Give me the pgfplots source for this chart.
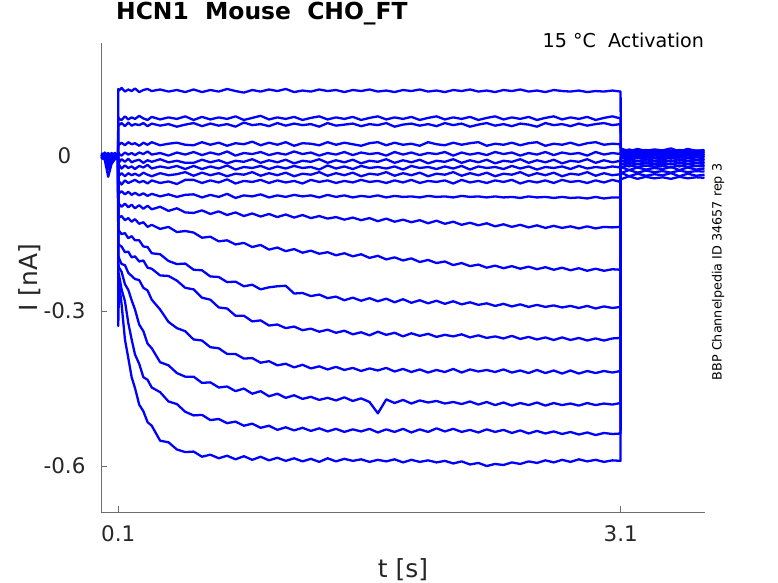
\documentclass[border=0pt]{standalone}
\usepackage{pgfplots}
\pgfplotsset{compat=1.18}
\usepackage{pgfplotstable}
\usepackage{fontspec}
\setmainfont{DejaVu Sans}
\definecolor{axtext}{RGB}{38,38,38}
\definecolor{axline}{RGB}{110,110,110}
% currents in pA; columns a..r = the 18 voltage steps (top to bottom)
\pgfplotstableread{
t a b c d e f g h i j k l m n o p q r
0 3 -2 5 -4 1 -6 2 4 -3 0 6 -5 -1 3 -2 5 -4 2
0.02 -5 4 -1 6 -3 2 -6 1 5 -2 -4 3 7 -5 0 -3 4 -8
0.04 2 -6 3 -2 5 -4 1 -7 2 6 -3 4 -2 -9 -12 -18 -25 -40
0.06 -3 5 -4 1 -2 6 -5 3 -1 -4 2 -6 5 1 -7 -4 -10 -15
0.08 4 -1 2 -5 3 -3 6 -2 4 1 -5 2 -3 6 -1 3 -2 -6
0.099 -2 3 -5 2 -4 5 -1 3 -6 2 4 -3 1 -4 5 -2 6 -3
0.1 130 76 63 27 8 -8 -20 -34 -52 -68 -95 -116 -141 -170 -193 -209 -223 -329
0.105 127 72 60 22 4 -12 -17 -38 -49 -72 -93 -119 -145 -172 -198 -216 -231 -246
0.12 132 70 64 26 1 -6 -24 -33 -55 -68 -98 -116 -151 -175 -209 -224 -258 -287
0.14 125 77 58 21 7 -11 -18 -39 -47 -74 -92 -124 -149 -186 -211 -248 -281 -355
0.16 129 71 65 27 3 -5 -23 -33 -52 -69 -99 -120 -159 -185 -226 -259 -323 -391
0.18 126 75 59 23 6 -12 -20 -37 -49 -75 -94 -127 -155 -196 -232 -279 -355 -428
0.2 131 72 62 25 2 -9 -25 -34 -46 -71 -101 -122 -163 -194 -238 -297 -384 -449
0.225 124 78 60 20 7 -7 -19 -38 -51 -76 -95 -131 -163 -204 -240 -326 -402 -481
0.25 128 73 64 26 4 -13 -22 -32 -48 -72 -102 -128 -175 -202 -255 -339 -428 -494
0.275 130 70 58 22 9 -8 -17 -36 -53 -77 -96 -137 -176 -216 -260 -363 -433 -515
0.3 126 76 63 27 3 -11 -24 -39 -47 -73 -103 -133 -188 -218 -278 -372 -448 -522
0.35 129 71 59 21 6 -6 -20 -33 -52 -78 -98 -141 -190 -231 -297 -399 -457 -551
0.4 125 75 62 24 1 -12 -23 -37 -49 -74 -106 -137 -203 -232 -321 -405 -475 -554
0.45 128 72 57 26 7 -9 -19 -35 -54 -79 -101 -147 -209 -241 -333 -420 -480 -568
0.5 124 77 61 22 3 -13 -25 -31 -46 -75 -109 -145 -208 -255 -339 -427 -495 -573
0.55 129 70 64 21 8 -13 -19 -38 -46 -74 -110 -148 -220 -258 -355 -427 -502 -572
0.6 124 76 58 27 2 -7 -25 -32 -52 -80 -105 -158 -221 -274 -357 -439 -501 -582
0.65 128 71 63 22 7 -12 -20 -37 -47 -75 -112 -156 -233 -278 -370 -438 -511 -578
0.7 125 75 59 26 3 -8 -24 -33 -51 -79 -107 -165 -234 -293 -372 -448 -509 -585
0.75 130 72 62 20 9 -14 -18 -39 -45 -73 -114 -163 -244 -295 -383 -446 -517 -580
0.8 126 77 57 25 1 -9 -26 -34 -53 -81 -109 -171 -243 -309 -383 -455 -514 -587
0.85 123 70 65 23 6 -11 -21 -36 -48 -76 -116 -168 -252 -309 -392 -450 -522 -581
0.9 128 74 60 28 4 -6 -23 -31 -50 -78 -111 -176 -249 -320 -391 -460 -518 -588
0.95 125 78 62 21 8 -13 -19 -38 -46 -74 -117 -172 -258 -318 -400 -455 -526 -582
1.0 129 71 58 26 2 -8 -25 -33 -52 -80 -112 -181 -254 -328 -397 -465 -522 -589
1.05 126 75 64 22 6 -12 -20 -37 -47 -76 -118 -177 -252 -326 -405 -460 -530 -584
1.1 130 72 59 27 3 -7 -24 -32 -51 -79 -113 -184 -251 -333 -402 -468 -525 -590
1.15 124 76 63 20 9 -14 -19 -39 -48 -75 -119 -180 -266 -330 -409 -463 -531 -585
1.2 127 70 60 25 4 -9 -23 -34 -53 -78 -114 -187 -265 -337 -404 -470 -526 -591
1.25 125 74 62 24 7 -11 -21 -36 -46 -76 -120 -183 -271 -334 -411 -466 -532 -586
1.3 129 77 57 21 1 -6 -26 -31 -50 -80 -116 -189 -268 -340 -407 -472 -527 -592
1.35 126 71 64 27 6 -13 -18 -38 -47 -75 -121 -186 -275 -336 -413 -468 -533 -585
1.4 128 75 59 22 3 -8 -24 -33 -52 -79 -118 -192 -272 -342 -408 -473 -528 -591
1.45 124 72 61 26 8 -12 -20 -37 -48 -76 -123 -188 -279 -338 -414 -467 -534 -586
1.5 128 76 63 23 2 -7 -25 -32 -51 -80 -119 -194 -274 -345 -410 -474 -529 -590
1.55 126 70 58 20 7 -14 -19 -39 -46 -77 -124 -190 -280 -341 -416 -469 -533 -587
1.6 129 74 62 25 4 -9 -23 -34 -50 -79 -120 -197 -275 -347 -411 -476 -528 -592
1.65 125 77 60 27 6 -11 -21 -36 -48 -76 -126 -193 -281 -340 -415 -498 -535 -588
1.7 127 71 64 21 1 -6 -24 -31 -52 -80 -121 -200 -276 -346 -410 -471 -529 -591
1.75 124 75 57 26 8 -13 -20 -38 -47 -77 -127 -196 -283 -342 -417 -478 -534 -587
1.8 128 72 61 22 3 -8 -26 -33 -51 -79 -123 -202 -277 -349 -412 -472 -528 -593
1.85 126 76 63 24 7 -12 -19 -37 -46 -78 -128 -198 -284 -343 -418 -479 -535 -588
1.9 129 70 59 20 2 -7 -23 -32 -52 -80 -124 -205 -279 -348 -413 -473 -529 -592
1.95 125 74 62 27 6 -14 -21 -39 -48 -77 -130 -201 -285 -344 -419 -477 -534 -589
2.0 127 77 58 23 4 -9 -25 -34 -50 -79 -125 -207 -280 -350 -414 -474 -527 -593
2.05 124 71 64 21 8 -11 -20 -36 -47 -78 -131 -204 -286 -346 -418 -479 -533 -590
2.1 128 75 60 26 1 -6 -24 -31 -53 -80 -127 -211 -281 -349 -412 -476 -528 -595
2.15 126 72 63 22 7 -13 -19 -38 -46 -77 -133 -207 -287 -345 -419 -480 -534 -591
2.2 129 76 57 25 3 -8 -26 -33 -51 -79 -129 -213 -283 -351 -413 -475 -530 -597
2.25 125 70 61 27 6 -12 -20 -37 -48 -78 -134 -210 -288 -347 -417 -481 -535 -594
2.3 127 74 64 20 2 -7 -23 -32 -52 -80 -130 -216 -285 -352 -414 -476 -529 -600
2.35 124 77 59 24 8 -14 -21 -39 -47 -78 -136 -212 -290 -349 -418 -482 -534 -596
2.4 128 71 62 22 4 -9 -25 -34 -50 -80 -132 -217 -286 -353 -413 -477 -530 -598
2.45 126 75 58 26 7 -11 -19 -36 -46 -79 -137 -213 -291 -348 -419 -483 -536 -593
2.5 129 72 63 21 1 -6 -24 -31 -53 -81 -133 -218 -287 -354 -415 -478 -531 -596
2.55 125 76 61 25 6 -13 -20 -38 -48 -78 -138 -214 -292 -350 -420 -482 -537 -591
2.6 127 70 57 27 3 -8 -26 -33 -51 -80 -134 -219 -288 -355 -414 -477 -532 -594
2.65 124 74 64 20 8 -12 -21 -37 -47 -79 -139 -215 -292 -351 -420 -483 -537 -589
2.7 128 77 60 24 2 -7 -23 -32 -52 -81 -135 -220 -289 -356 -415 -478 -533 -593
2.75 126 71 62 22 7 -14 -20 -39 -46 -79 -139 -216 -293 -351 -421 -482 -538 -588
2.8 125 75 58 26 4 -9 -25 -34 -50 -81 -136 -221 -290 -356 -415 -479 -534 -592
2.85 127 72 63 21 6 -11 -19 -36 -48 -80 -140 -217 -294 -352 -421 -483 -539 -587
2.9 124 76 59 25 1 -6 -24 -31 -52 -82 -136 -222 -290 -357 -416 -478 -535 -591
2.95 126 70 62 27 8 -13 -21 -38 -47 -79 -140 -218 -295 -353 -420 -482 -540 -588
3.0 125 74 64 22 3 -8 -23 -33 -51 -82 -137 -222 -291 -357 -416 -479 -536 -592
3.05 127 77 60 24 6 -12 -20 -37 -46 -80 -138 -219 -294 -353 -419 -481 -538 -589
3.099 125 73 62 23 4 -9 -22 -35 -50 -80 -137 -220 -292 -352 -416 -478 -537 -590
3.1 15 7 11 3 8 -1 4 -5 -2 -11 -8 -17 -14 -23 -21 -33 -32 -45
3.15 9 13 5 9 1 5 -3 1 -8 -5 -14 -11 -20 -17 -27 -27 -39 -39
3.2 14 8 10 4 7 0 3 -4 -3 -10 -9 -16 -15 -22 -22 -32 -34 -44
3.25 10 12 6 8 2 4 -2 0 -7 -6 -13 -12 -19 -18 -26 -28 -38 -40
3.3 13 9 9 5 6 1 2 -3 -4 -9 -10 -15 -16 -21 -23 -31 -35 -43
3.35 11 11 7 7 3 3 -1 -1 -6 -7 -12 -13 -18 -19 -25 -29 -37 -41
3.4 15 8 10 3 7 0 4 -4 -2 -10 -8 -16 -14 -22 -21 -32 -33 -44
3.45 9 12 6 9 1 5 -3 1 -8 -6 -14 -12 -20 -18 -27 -28 -39 -40
3.5 14 9 11 4 8 1 3 -3 -3 -9 -9 -15 -15 -21 -22 -31 -34 -43
3.55 10 11 5 8 2 4 -2 0 -7 -7 -13 -13 -19 -19 -26 -29 -38 -41
3.6 12 10 8 6 4 2 0 -2 -5 -8 -11 -14 -17 -20 -24 -30 -36 -42
}\traces
\begin{document}
\begin{tikzpicture}
\useasboundingbox (-101.5bp,-71bp) rectangle (676.5bp,512bp);
\begin{axis}[
  at={(0bp,0bp)}, anchor=south west,
  scale only axis, width=603bp, height=469bp,
  xmin=0, xmax=3.6, ymin=-689, ymax=219,
  axis x line*=bottom, axis y line*=left,
  axis line style={axline, line width=0.6pt, -},
  xtick={0.1,3.1}, xticklabels={0.1,3.1},
  ytick={-600,-300,0}, yticklabels={-0.6,-0.3,0},
  tick align=inside, major tick length=6bp,
  tick style={axline, line width=0.6pt},
  xticklabel style={font=\fontsize{21.5}{21.5}\selectfont, text=axtext, anchor=north, inner sep=0pt, yshift=-13bp},
  yticklabel style={font=\fontsize{21.5}{21.5}\selectfont, text=axtext, anchor=center, inner sep=0pt, xshift=-37bp},
  title={HCN1\ \ Mouse\ \ CHO\_FT},
  title style={font=\bfseries\fontsize{23.5}{23.5}\selectfont, text=black, at={(axis description cs:0.024,1.037)}, anchor=base west, inner sep=0pt},
  xlabel={t [s]},
  xlabel style={font=\fontsize{25}{25}\selectfont, text=axtext, at={(axis description cs:0.5,-0.1386)}, anchor=base, inner sep=0pt},
  ylabel={I [nA]},
  ylabel style={font=\fontsize{25}{25}\selectfont, text=axtext, at={(axis description cs:-0.1186,0.5)}, anchor=center, inner sep=0pt},
  clip=false,
]
\pgfplotsinvokeforeach{a,b,c,d,e,f,g,h,i,j,k,l,m,n,o,p,q,r}{
  \addplot[blue, line width=2.3pt, line join=round, mark=none] table[x=t, y=#1] {\traces};
}
\node[font=\fontsize{19.2}{19.2}\selectfont, text=black, anchor=base east, inner sep=0pt]
  at (axis description cs:0.9995,0.991) {15 °C\ \ Activation};
\node[font=\fontsize{12.8}{12.8}\selectfont, text=black, rotate=90, anchor=center, inner sep=0pt]
  at (axis description cs:1.0224,0.5117) {BBP Channelpedia ID 34657 rep 3};
\end{axis}
\end{tikzpicture}
\end{document}
